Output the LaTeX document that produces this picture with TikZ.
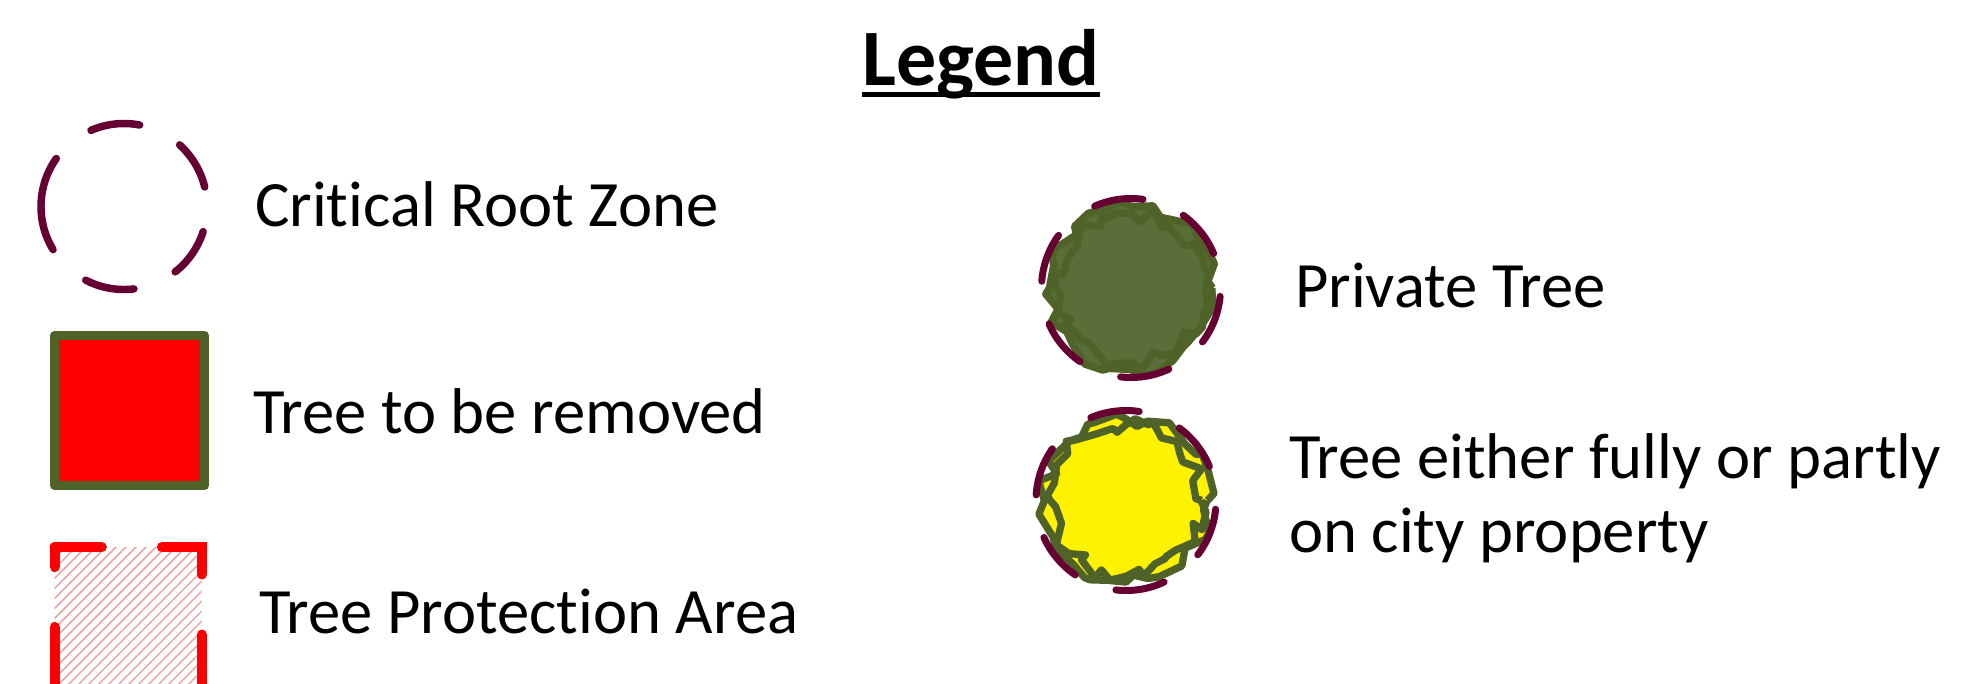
\documentclass[tikz,border=0pt]{standalone}
\usepackage{fontspec}
\setmainfont{Carlito}[Ligatures={NoCommon,NoContextual}]
\usetikzlibrary{decorations.pathmorphing,patterns.meta}
\definecolor{rootzone}{HTML}{660033}
\definecolor{treeline}{HTML}{4F6228}
\definecolor{treefill}{HTML}{5A6E3A}
\definecolor{hatchred}{HTML}{E9A3A3}

\begin{document}
\begin{tikzpicture}[x=0.75pt,y=-0.75pt,inner sep=0pt,outer sep=0pt,
legtext/.style={anchor=base west,font=\fontsize{48.5}{55}\selectfont},
rootring/.style={draw=rootzone,line width=5.25pt,line cap=round,dash pattern=on 37.1pt off 32.8pt,dash phase=53.5pt},
canopy/.style={draw=treeline,line width=5.5pt,line join=round,decorate,decoration={random steps,segment length=11pt,amplitude=6pt}},
protectdash/.style={draw=red,line width=7.5pt,line cap=round,dash pattern=on 50.3pt off 45pt}]
\pgfmathsetseed{11}
\useasboundingbox (0,0) rectangle (1967,683);

\node[font=\fontsize{60}{64}\bfseries\selectfont,anchor=base] (title) at (981,85) {Legend};
\draw[line width=3.75pt] ([yshift=-6.75pt]title.base west) -- ([yshift=-6.75pt]title.base east);

\coordinate (crz) at (124,206.5);
\draw[rootring,line width=5.6pt,dash pattern=on 37.3pt off 33.9pt,dash phase=0pt] (crz) ++(-177:83) arc[start angle=-177,delta angle=-360,radius=83];
\node[legtext] (crztext) at (255,226) {Critical Root Zone};

\node[draw=treeline,fill=red,line width=6.75pt,line join=round,minimum size=112.5pt] (removed) at (129.6,410.5) {};
\node[legtext] (removetext) at (253,433) {Tree to be removed};

\node[pattern={Lines[angle=45,distance=5.3pt,line width=1.1pt]},pattern color=hatchred,minimum size=110.4pt] (protect) at (128.1,620.9) {};
\draw[protectdash,dash phase=14.8pt] (protect.north west) -- (protect.north east) -- (protect.south east) -- (protect.south west);
\draw[protectdash,dash phase=35.5pt] (protect.north west) -- (protect.south west);
\node[legtext] (protecttext) at (259,633) {Tree Protection Area};

\coordinate (private) at (1131,288);
\draw[canopy,fill=treefill] (private) circle[radius=81];
\draw[canopy,decoration={segment length=8pt}] (private) circle[radius=74];
\draw[rootring] (private) ++(-130:89.5) arc[start angle=-130,delta angle=-360,radius=89.5];
\node[legtext] (privatetext) at (1295,307) {Private Tree};

\coordinate (city) at (1126,500.5);
\draw[canopy,fill=yellow] (city) circle[radius=81];
\draw[canopy,decoration={segment length=8pt}] (city) circle[radius=75];
\draw[rootring] (city) ++(-131:90) arc[start angle=-131,delta angle=-360,radius=90];
\node[legtext,align=left] (citytext) at (1289,552) {Tree either fully or partly\\on city property};
\end{tikzpicture}
\end{document}
